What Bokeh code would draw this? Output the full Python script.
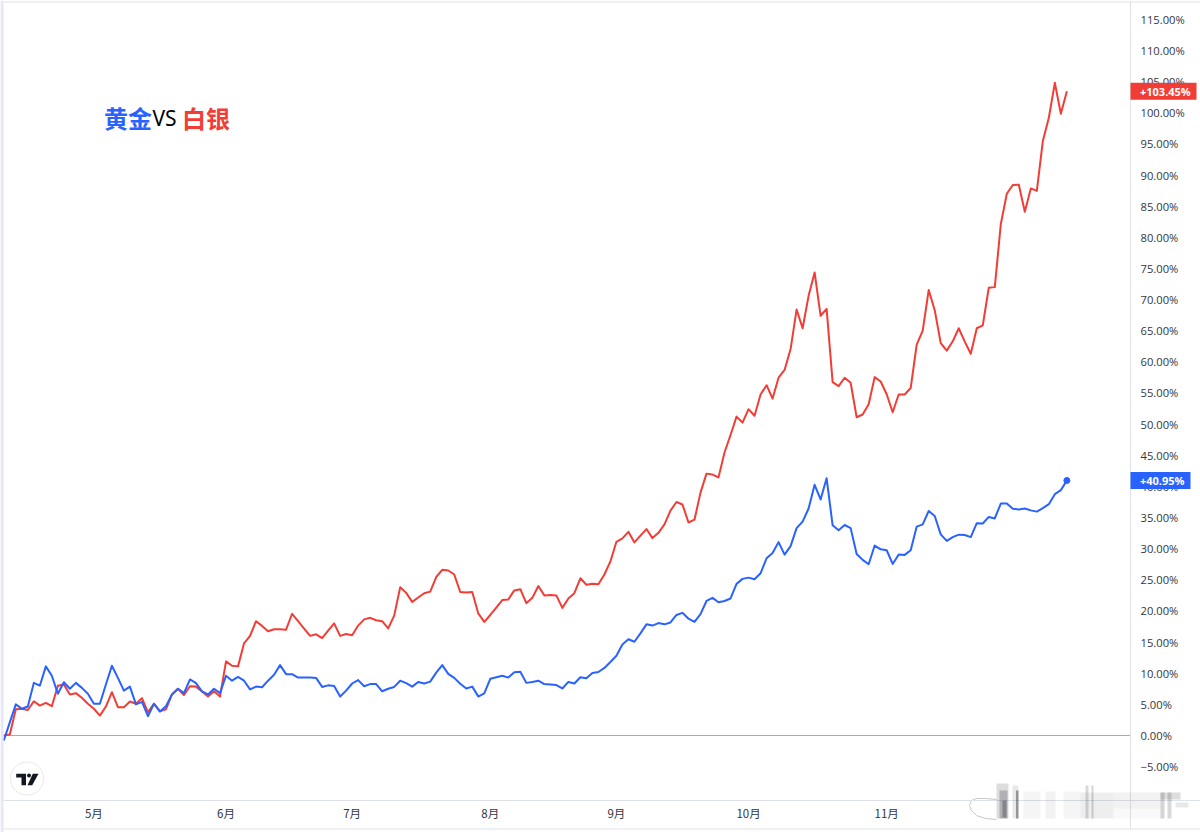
from bokeh.plotting import figure
from bokeh.models import Range1d, FixedTicker, Label, BoxAnnotation
from bokeh.embed import file_html
from bokeh.resources import INLINE

gold = [-0.8,2.1,5.0,4.3,4.65,8.45,8.0,11.1,9.6,6.7,8.55,7.5,8.45,7.65,6.7,5.1,5.1,8.2,11.2,9.25,
7.2,7.85,5.0,5.4,3.1,5.1,3.85,4.7,6.6,7.5,6.8,9.0,8.4,7.1,6.6,7.5,6.8,9.6,8.8,9.4,
8.8,7.4,7.85,7.75,8.8,9.75,11.3,9.85,9.85,9.3,9.3,9.3,9.25,7.8,8.05,7.95,6.25,7.2,8.35,8.9,
7.9,8.25,8.25,7.1,7.5,7.8,8.8,8.4,7.85,8.6,8.35,8.65,10.1,11.3,9.9,9.25,8.3,7.55,7.85,6.25,
6.75,9.1,9.35,9.6,9.3,10.15,10.25,8.45,8.6,8.8,8.25,8.2,8.1,7.55,8.6,8.35,9.35,9.2,10.05,10.2,
10.85,11.8,12.8,14.6,15.45,15.05,16.4,17.85,17.65,18.05,17.85,18.15,19.35,19.7,18.75,18.25,19.5,21.6,22.1,21.4,
21.6,22.0,24.35,25.15,25.35,25.1,26.05,28.45,29.3,31.05,29.05,30.4,33.3,34.35,36.45,40.25,37.9,41.3,33.75,32.95,
33.8,33.3,29.15,28.2,27.5,30.5,29.9,29.75,27.55,29.05,29.0,29.75,33.55,33.9,36.05,35.25,32.3,31.25,31.85,32.25,
32.2,31.85,34.1,34.05,35.1,34.85,37.25,37.25,36.4,36.3,36.45,36.15,35.95,36.5,37.15,38.75,39.4,40.95]

silver = [0.0,0.15,4.2,4.3,4.1,5.5,4.8,5.25,4.7,8.0,8.2,6.6,6.8,6.05,5.1,4.3,3.2,4.65,6.95,4.55,
4.55,5.45,5.1,6.0,3.75,5.1,3.9,4.2,6.6,7.5,6.5,7.9,7.85,7.05,6.25,7.1,6.25,11.9,11.2,11.1,
14.8,16.0,18.35,17.6,16.75,17.05,17.05,17.0,19.55,18.35,17.15,16.0,16.25,15.65,16.85,18.0,16.0,16.3,16.1,17.65,
18.65,18.9,18.5,18.35,17.2,19.25,23.8,22.9,21.45,22.15,22.85,23.1,25.45,26.6,26.5,25.85,23.05,22.95,23.05,19.6,
18.25,19.35,20.55,21.75,21.85,23.3,23.5,21.25,22.1,24.0,22.5,22.55,22.5,20.5,22.0,22.85,25.25,24.2,24.35,24.3,
25.85,27.95,31.1,31.65,32.7,31.0,32.1,33.15,31.7,32.55,33.9,36.1,37.5,37.1,34.2,34.65,39.0,42.05,41.9,41.45,
45.45,48.25,51.2,50.25,52.4,51.35,54.75,56.25,54.1,57.45,58.7,62.05,68.4,65.4,70.6,74.35,67.4,68.5,56.75,56.1,
57.45,56.65,51.1,51.55,53.2,57.55,56.85,54.8,51.9,54.75,54.75,55.8,62.75,65.0,71.55,68.3,63.0,61.8,63.3,65.4,
63.25,61.3,65.4,65.85,71.9,72.0,82.1,87.0,88.4,88.45,84.1,87.85,87.45,95.45,99.2,104.8,99.85,103.45]

days = list(range(len(gold)))
month_ticks = [15, 37, 58, 81, 102, 124, 147]
month_labels = ["5月", "6月", "7月", "8月", "9月", "10月", "11月"]
pct_ticks = list(range(-5, 120, 5))

BLUE = "#2962ff"
RED = "#f23d36"
GRID = "#dfe1e8"
TEXT = "#33363d"
LATIN = "Open Sans"
CJK = "Noto Sans CJK SC"

X0, DX = 3.3, 6.006
Y0, DY = 735.0, 6.2275
W, H = 1200, 832
FL, FR, FT, FB = 3, 1130, 1, 800
def dx(px): return (px - X0) / DX
def dy(px): return (Y0 - px) / DY

p = figure(width=W, height=H, output_backend="svg", toolbar_location=None,
           x_range=Range1d(dx(0), dx(W)), y_range=Range1d(dy(H), dy(0)),
           min_border=0, x_axis_location="below", y_axis_location="right")
p.grid.visible = False
p.outline_line_color = None
p.background_fill_color = "#ffffff"
p.border_fill_color = "#ffffff"

ya = p.yaxis[0]
ya.fixed_location = dx(FR)
ya.bounds = (dy(828), dy(FT))
ya.ticker = FixedTicker(ticks=pct_ticks)
ya.major_label_overrides = {t: (f"−{abs(t)}.00%" if t < 0 else f"{t}.00%") for t in pct_ticks}
ya.major_tick_line_color = None
ya.minor_tick_line_color = None
ya.major_tick_out = 0
ya.axis_line_color = GRID
ya.major_label_standoff = 10
ya.major_label_text_font = LATIN
ya.major_label_text_font_size = "11.2px"
ya.major_label_text_color = TEXT

xa = p.xaxis[0]
xa.fixed_location = dy(FB)
xa.bounds = (dx(FL), dx(W))
xa.ticker = FixedTicker(ticks=month_ticks)
xa.major_label_overrides = dict(zip(month_ticks, month_labels))
xa.major_tick_line_color = None
xa.minor_tick_line_color = None
xa.major_tick_out = 0
xa.axis_line_color = GRID
xa.major_label_standoff = 4
xa.major_label_text_font = CJK
xa.major_label_text_font_size = "11.5px"
xa.major_label_text_color = TEXT

def box(l, r, t, b, color, alpha=1.0):
    p.add_layout(BoxAnnotation(left=dx(l), right=dx(r), top=dy(t), bottom=dy(b),
                               fill_color=color, fill_alpha=alpha, line_color=None, level="overlay"))

box(0, 3, 0, 832, "#e6e6f5")
box(3, 1200, 1, 2, GRID)
box(3, 1200, 828, 829, GRID)

# blurred stamp over the lower right corner
stamp_dark = [(996, 1008, 783, 818, 0.18), (999, 1007, 790, 818, 0.28), (1002, 1006, 800, 817, 0.4),
              (1012, 1018, 785, 818, 0.12), (1015.5, 1018, 790, 818, 0.5),
              (1085, 1088, 785, 818, 0.2), (1091, 1093, 785, 818, 0.22),
              (1160, 1164, 792, 818, 0.22), (1167, 1171, 792, 818, 0.2)]
stamp_pale = [(1023, 1040, 791, 818, 0.05), (1045, 1055, 791, 818, 0.07), (1063, 1080, 791, 818, 0.05),
              (1080, 1113, 792, 818, 0.09), (1113, 1160, 792, 808, 0.07), (1113, 1160, 808, 818, 0.03),
              (1160, 1180, 792, 799, 0.18), (1175, 1188, 802, 807, 0.12)]
for l, r, t, b, a in stamp_pale + stamp_dark:
    box(l, r, t, b, "#40424a", a)
stamp_x = [996, 985, 976, 971, 969, 971, 976, 985, 996]
stamp_y = [819, 818, 815, 810, 805, 800, 798, 798, 799]
p.line([dx(v) for v in stamp_x], [dy(v) for v in stamp_y], line_color="#c6c7ca", line_width=1)

p.line([dx(FL), dx(FR)], [0, 0], line_color="#a9abb2", line_width=1)
p.line(days, silver, line_color=RED, line_width=2, line_join="round")
p.line(days, gold, line_color=BLUE, line_width=2, line_join="round")
p.scatter([days[-1]], [gold[-1]], size=6, marker="circle", fill_color=BLUE, line_color=BLUE)

# TradingView badge
p.scatter([dx(26.5)], [dy(778)], size=33, marker="circle", fill_color="#ffffff", line_color="#e6e7eb", line_width=1)
logo_x = [[dx(v) for v in (15.7, 25.5, 25.5, 21, 21, 15.7)],
          [dx(v) for v in (32.3, 38, 31.7, 27)]]
logo_y = [[dy(v) for v in (773.3, 773.3, 784.7, 784.7, 777, 777)],
          [dy(v) for v in (773.3, 773.3, 784.7, 784.7)]]
p.patches(logo_x, logo_y, fill_color="#131722", line_color=None)
p.scatter([dx(28.5)], [dy(775)], size=4, marker="circle", fill_color="#131722", line_color=None)

def price_tag(value, color, right_px):
    centre = Y0 - value * DY
    box(FR, right_px, centre - 8.5, centre + 8.5, color)
    p.add_layout(Label(x=dx(1139.5), y=value, text=f"+{value:.2f}%",
                       text_color="#ffffff", text_font=LATIN, text_font_size="11px",
                       text_font_style="bold", text_align="left", text_baseline="middle",
                       level="overlay"))
price_tag(silver[-1], RED, 1196)
price_tag(gold[-1], BLUE, 1190)

def title(px, text, color, font, size, style="bold"):
    p.add_layout(Label(x=dx(px), y=dy(117), text=text, text_color=color,
                       text_font=font, text_font_size=size, text_font_style=style,
                       text_align="left", text_baseline="middle", level="overlay"))
title(103.5, "黄金", BLUE, CJK, "24px")
title(152, "VS", "#000000", "Noto Sans", "21px", "normal")
title(181.5, "白银", RED, CJK, "24px")

open("out.html", "w").write(file_html(p, INLINE))
